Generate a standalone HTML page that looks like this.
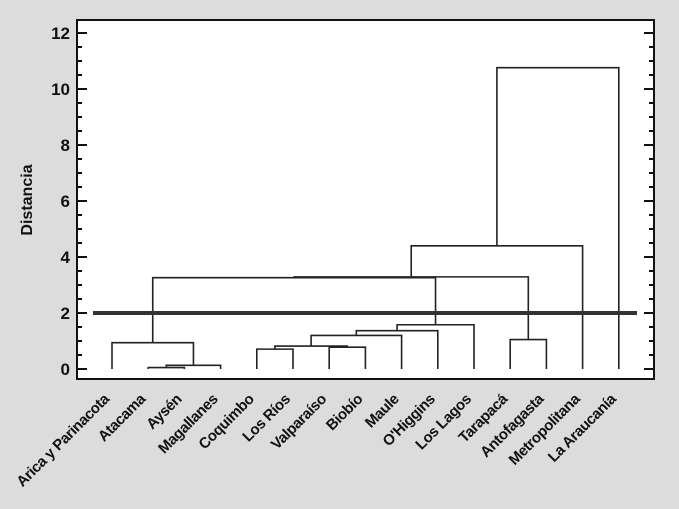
<!DOCTYPE html>
<html><head><meta charset="utf-8"><style>
html,body{margin:0;padding:0;background:#dcdcdc;}
svg{display:block;font-family:"Liberation Sans",Arial,sans-serif;}
</style></head><body>
<svg id="chart" width="679" height="509" viewBox="0 0 679 509">
<rect x="0" y="0" width="679" height="509" fill="#dcdcdc"/>
<rect x="77" y="20" width="577" height="359" fill="#fff" stroke="#111" stroke-width="2"/>
<g id="ticks"></g><g id="links"></g><g id="xl"></g>
<text x="0" y="0" transform="translate(32,200) rotate(-90)" text-anchor="middle" font-weight="bold" font-size="16" fill="#111">Distancia</text>
</svg>
<script>
const leaves = ["Arica y Parinacota","Atacama","Aysén","Magallanes","Coquimbo","Los Ríos","Valparaíso","Biobío","Maule","O'Higgins","Los Lagos","Tarapacá","Antofagasta","Metropolitana","La Araucanía"];
// merges: [clusterA, clusterB, height]; new cluster ids start at 15
const mergeA = [1, 15, 0, 4, 6, 18, 20, 21, 22, 11, 17, 25, 26, 27];
const mergeB = [2, 3, 16, 5, 7, 19, 8, 9, 10, 12, 23, 24, 13, 14];
const mergeH = [0.05, 0.13, 0.94, 0.71, 0.78, 0.82, 1.2, 1.37, 1.58, 1.05, 3.26, 3.29, 4.4, 10.76];
const yTicks = [0,2,4,6,8,10,12];
const cutHeight = 2;

const NS="http://www.w3.org/2000/svg";
const X0=112, DX=36.2;
const x = i => X0 + i*DX;
const y = v => 369 - 28*v;
function mk(tag, attrs, parent){const e=document.createElementNS(NS,tag);for(const k in attrs)e.setAttribute(k,attrs[k]);parent.appendChild(e);return e;}
const tg=document.getElementById('ticks'), lg=document.getElementById('links'), xg=document.getElementById('xl');
for(let v=0; v<=12.001; v+=0.5){
  const major = Math.abs(v-Math.round(v/2)*2)<1e-6;
  const len = major?10:5;
  const t1=mk('line',{x1:77,x2:77+len,y1:y(v),y2:y(v),stroke:'#111','stroke-width':2},tg);
  
  
  const t2=mk('line',{x1:654-len,x2:654,y1:y(v),y2:y(v),stroke:'#111','stroke-width':2},tg);
  
  
}
yTicks.forEach(v=>{
  const t=mk('text',{x:70,y:y(v)+6,'text-anchor':'end','font-weight':'bold','font-size':17,fill:'#111'},tg);
  t.textContent=v;
  
  
});
const cx=[], ch=[];
leaves.forEach((n,i)=>{cx.push(x(i)); ch.push(0);
  const t=mk('text',{'text-anchor':'end','font-weight':'bold','font-size':15,fill:'#111','letter-spacing':'-0.4',transform:`translate(${x(i)-2},400) rotate(-45)`},xg);
  t.textContent=n;
  
  
});
mergeA.forEach((a,k)=>{
  const b=mergeB[k], h=mergeH[k];
  const d=`M${cx[a]},${y(ch[a])}V${y(h)}H${cx[b]}V${y(ch[b])}`;
  const p=mk('path',{d:d,fill:'none',stroke:'#222','stroke-width':1.6},lg);
  
  
  cx.push((cx[a]+cx[b])/2); ch.push(h);
});
const cut=mk('line',{x1:93,x2:637,y1:y(cutHeight),y2:y(cutHeight),stroke:'#333','stroke-width':4},lg);


</script>
</body></html>
